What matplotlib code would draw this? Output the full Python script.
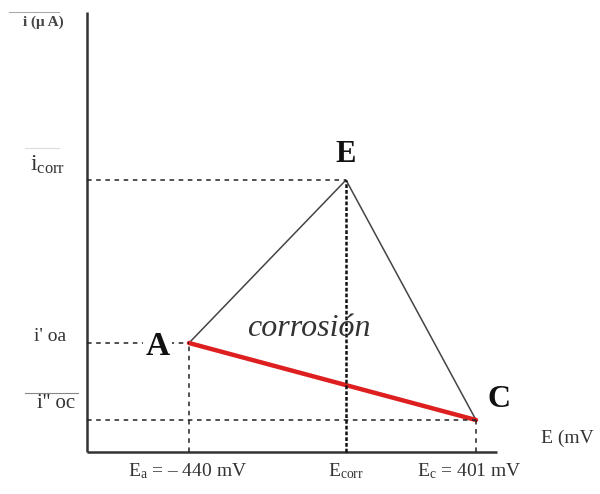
import matplotlib.pyplot as plt

# potentials (mV) and currents (arbitrary units) of the three corners
names = ["A", "E", "C"]
potentials = [-440, 20, 401]
currents = [10.9, 27.2, 3.2]
current_labels = ["i' oa", "i$_{\\rm corr}$", "i'' oc"]

plt.rcParams['font.family'] = ['Liberation Serif', 'DejaVu Serif']
plt.rcParams['mathtext.fontset'] = 'custom'
plt.rcParams['mathtext.rm'] = 'Liberation Serif'
plt.rcParams['mathtext.it'] = 'Liberation Serif:italic'

fig = plt.figure(figsize=(6, 4.94), dpi=100)
ax = fig.add_axes([0, 0, 1, 1])
ax.set_xlim(-993.8, 764.3)
ax.set_ylim(-4.2, 45.2)
ax.axis('off')

x0 = -739   # position of the current axis
ea, ecorr, ec = potentials
ia, icorr, ic = currents

# axes
ax.plot([x0, x0], [0, 44], color='#333333', lw=1.8, solid_capstyle='butt')
ax.plot([x0, 462], [0, 0], color='#333333', lw=1.8, solid_capstyle='butt')

# triangle sides
ax.plot([ea, ecorr, ec], [ia, icorr, ic], color='#444444', lw=1.1)
ax.plot([ea, ec], [ia, ic], color='#dd1f1f', lw=3.2, solid_capstyle='round')

# guide lines to the axes
dash = dict(color='#222222', lw=1.1, ls=(0, (3, 3)))
ax.plot([x0, ecorr], [icorr, icorr], **dash)
ax.plot([x0, ea], [ia, ia], **dash)
ax.plot([x0, ec], [ic, ic], **dash)
ax.plot([ea, ea], [0, ia], **dash)
ax.plot([ec, ec], [0, ic], **dash)
ax.plot([ecorr, ecorr], [0, icorr], color='#111111', lw=1.8, ls=(0, (1.5, 0.8)))

# corner letters
ax.text(ecorr, icorr + 2.6, names[1], fontsize=22, fontweight='bold',
        ha='center', va='center', color='#111111')
ax.text(ea - 92, ia - 0.3, names[0], fontsize=24, fontweight='bold', ha='center',
        va='center', color='#111111', bbox=dict(fc='white', ec='none', pad=2))
ax.text(ec + 68, ic + 2.1, names[2], fontsize=23, fontweight='bold',
        ha='center', va='center', color='#111111')
ax.text(-90, 12.4, "corrosión", fontsize=23, style='italic',
        ha='center', va='center', color='#333333')

# current labels
ax.text(-868, 43.0, "i (μ A)", fontsize=11, fontweight='bold',
        ha='center', va='center', color='#444444')
ax.plot([-968, -820], [44.0, 44.0], color='#aaaaaa', lw=0.8)
ax.text(-853, 28.7, current_labels[1], fontsize=17, ha='center',
        va='center', color='#333333')
ax.plot([-920, -820], [30.4, 30.4], color='#dddddd', lw=0.8)
ax.text(-847, 11.6, current_labels[0], fontsize=14, ha='center',
        va='center', color='#333333')
ax.text(-830, 4.9, current_labels[2], fontsize=15, ha='center',
        va='center', color='#333333')
ax.plot([-920, -765], [5.9, 5.9], color='#888888', lw=0.8)

# potential labels
ax.text(ea - 5, -1.9, "E$_{\\rm a}$ = \u2013 440 mV", fontsize=14, ha='center',
        va='center', color='#333333')
ax.text(ecorr, -1.9, "E$_{\\rm corr}$", fontsize=14, ha='center',
        va='center', color='#333333')
ax.text(ec - 20, -1.9, "E$_{\\rm c}$ = 401 mV", fontsize=14, ha='center',
        va='center', color='#333333')
ax.text(592, 1.4, "E (mV", fontsize=14, ha='left', va='center',
        color='#333333')

fig.savefig("out.png", dpi=100, facecolor='white')
